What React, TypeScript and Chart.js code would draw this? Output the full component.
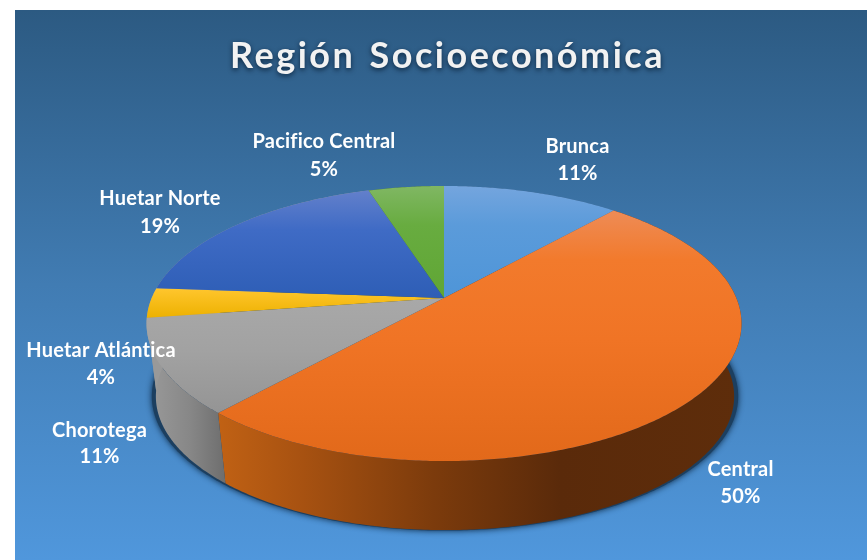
import React, { useEffect, useRef } from "react";
import { Chart, registerables } from "chart.js";

Chart.register(...registerables);

const categories = ["Brunca", "Central", "Chorotega", "Huetar Atlántica", "Huetar Norte", "Pacifico Central"];
const shares = [11.5, 50.1, 11.1, 3.5, 18.9, 4.9];
const percentLabels = ["11%", "50%", "11%", "4%", "19%", "5%"];
const titleText = "Región Socioeconómica";
const baseColors = ["#5B9BD5", "#ED7D31", "#A5A5A5", "#FFC000", "#4472C4", "#70AD47"];

// [y, colour] stops of the top face
const topStops: [number, string][][] = [
  [[186, "#74A5DE"], [225, "#5B9BDA"], [298, "#4E95D8"]],
  [[212, "#EE8B55"], [260, "#F27A2C"], [340, "#F07425"], [461, "#E2691A"]],
  [[300, "#A8A8A8"], [350, "#A2A2A2"], [415, "#949494"]],
  [[288, "#FFC62E"], [318, "#EDB100"]],
  [[190, "#6380CB"], [230, "#3F6BC5"], [298, "#2E5EB6"]],
  [[186, "#80B763"], [225, "#68AC40"], [298, "#60A634"]],
];
// [x, colour] stops of the side wall
const wallStops: [number, string][][] = [
  [[440, "#3A5F85"], [740, "#3A5F85"]],
  [[220, "#C06114"], [300, "#A85211"], [433, "#7C3B0C"], [560, "#5A2A0A"], [740, "#5E2D0B"]],
  [[150, "#999999"], [190, "#878787"], [225, "#6E6E6E"]],
  [[150, "#999999"], [170, "#999999"]],
  [[150, "#999999"], [440, "#999999"]],
  [[370, "#48702C"], [444, "#48702C"]],
];

// label anchors: centre x, first baseline, second baseline
const labelAnchors: [number, number, number][] = [
  [577.5, 153, 180],
  [740.5, 476, 503],
  [99.5, 437, 463],
  [101, 357, 384],
  [160, 205, 233],
  [324, 148, 176],
];

// perspective of the disc
const APEX_X = 444;
const APEX_Y = 298;
const A = 292.3;
const B = 132.8;
const K = 0.1855;
const WALL_SCALE = 0.972;
const WALL_DX = 1;
const WALL_DY = 73.6;

function project(a: number, bottom: boolean): [number, number] {
  const u = Math.cos(a);
  const v = Math.sin(a);
  const d = 1 - K * v;
  const x = (A * u) / d;
  const y = (B * v) / d;
  return bottom
    ? [APEX_X + WALL_DX + x * WALL_SCALE, APEX_Y + WALL_DY + y * WALL_SCALE]
    : [APEX_X + x, APEX_Y + y];
}

function arcPoints(a0: number, a1: number, bottom: boolean) {
  const n = Math.max(2, Math.ceil(Math.abs(a1 - a0) / 0.01));
  const pts: [number, number][] = [];
  for (let i = 0; i <= n; i++) pts.push(project(a0 + ((a1 - a0) * i) / n, bottom));
  return pts;
}

function gradient(ctx: CanvasRenderingContext2D, stops: [number, string][], vertical: boolean) {
  const lo = stops[0][0];
  const hi = stops[stops.length - 1][0];
  const g = vertical
    ? ctx.createLinearGradient(0, lo, 0, hi)
    : ctx.createLinearGradient(lo, 0, hi, 0);
  stops.forEach(([p, c]) => g.addColorStop((p - lo) / (hi - lo), c));
  return g;
}

const pie3d = {
  id: "pie3d",
  beforeDraw(chart: any) {
    const ctx = chart.ctx;
    ctx.letterSpacing = "2.5px";
    ctx.wordSpacing = "3px";
    ctx.shadowColor = "rgba(0,20,40,0.75)";
    ctx.shadowBlur = 5;
    ctx.shadowOffsetY = 2;
  },
  beforeDatasetDraw(chart: any, args: any) {
    const ctx: CanvasRenderingContext2D = chart.ctx;
    (ctx as any).letterSpacing = "0px";
    (ctx as any).wordSpacing = "0px";
    ctx.shadowColor = "transparent";
    ctx.shadowBlur = 0;
    ctx.shadowOffsetY = 0;
    const arcs = args.meta.data;

    // ground shadow
    ctx.save();
    ctx.translate(445, 395);
    ctx.scale(1.014, 1.004);
    ctx.translate(-445, -395);
    ctx.shadowColor = "rgba(10,35,60,0.95)";
    ctx.shadowBlur = 6;
    ctx.fillStyle = "#1c3f60";
    ctx.beginPath();
    arcPoints(0, Math.PI * 2, true).forEach(([x, y], i) => (i ? ctx.lineTo(x, y) : ctx.moveTo(x, y)));
    ctx.closePath();
    ctx.fill();
    ctx.restore();

    // walls, then top faces
    arcs.forEach((el: any, i: number) => {
      const top = arcPoints(el.startAngle, el.endAngle, false);
      const bot = arcPoints(el.startAngle, el.endAngle, true).reverse();
      ctx.beginPath();
      [...top, ...bot].forEach(([x, y], k) => (k ? ctx.lineTo(x, y) : ctx.moveTo(x, y)));
      ctx.closePath();
      ctx.fillStyle = gradient(ctx, wallStops[i], false);
      ctx.fill();
    });
    arcs.forEach((el: any, i: number) => {
      const top = arcPoints(el.startAngle, el.endAngle, false);
      ctx.beginPath();
      ctx.moveTo(APEX_X, APEX_Y);
      top.forEach(([x, y]) => ctx.lineTo(x, y));
      ctx.closePath();
      ctx.fillStyle = gradient(ctx, topStops[i], true);
      ctx.fill();
    });
    return false;
  },
  afterDatasetsDraw(chart: any) {
    const ctx: CanvasRenderingContext2D = chart.ctx;
    ctx.save();
    ctx.font = "700 20px Lato";
    (ctx as any).letterSpacing = "0.2px";
    ctx.textAlign = "center";
    ctx.textBaseline = "alphabetic";
    ctx.fillStyle = "#ffffff";
    categories.forEach((name, i) => {
      const [x, y1, y2] = labelAnchors[i];
      ctx.fillText(name, x, y1);
      ctx.fillText(percentLabels[i], x, y2);
    });
    ctx.restore();
  },
};

export default function App() {
  const ref = useRef<HTMLCanvasElement>(null);
  useEffect(() => {
    const chart = new Chart(ref.current!, {
      type: "pie",
      data: {
        labels: categories,
        datasets: [{ data: shares, backgroundColor: baseColors, borderWidth: 0 }],
      },
      options: {
        animation: false,
        responsive: false,
        layout: { padding: { left: 28, top: 35 } },
        plugins: {
          legend: { display: false },
          tooltip: { enabled: false },
          title: {
            display: true,
            text: titleText,
            color: "#F2F2F2",
            font: { family: "Lato", size: 36, weight: "bold" },
            padding: { top: 0, bottom: 10 },
          },
        },
      },
      plugins: [pie3d],
    } as any);
    return () => chart.destroy();
  }, []);
  return (
    <div style={{ position: "fixed", left: 0, top: 0, width: 867, height: 560, background: "#fff", overflow: "hidden" }}>
      <div
        style={{
          position: "absolute",
          left: 15,
          top: 10,
          width: 852,
          height: 550,
          background: "linear-gradient(180deg, #2C5A82 0%, #417CB3 50%, #5097DC 100%)",
        }}
      />
      <canvas ref={ref} width={867} height={560} style={{ position: "absolute", left: 0, top: 0, display: "block", filter: "blur(0.4px)" }} />
    </div>
  );
}
